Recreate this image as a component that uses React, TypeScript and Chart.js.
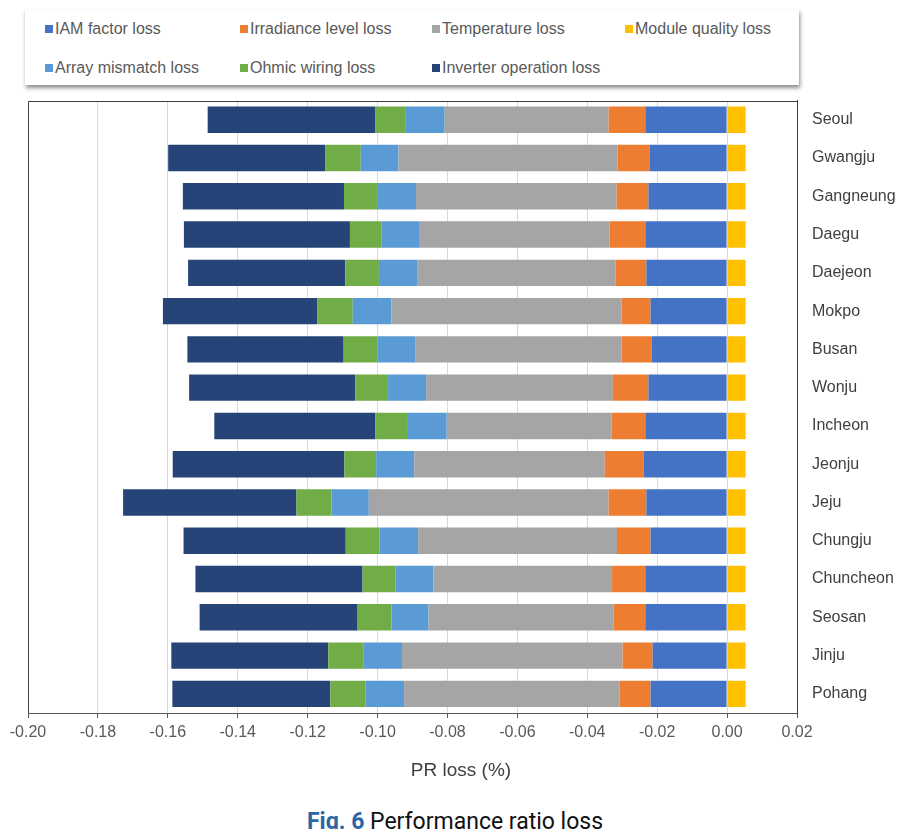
import React, { useEffect, useRef } from "react";
import { Chart, registerables } from "chart.js";

Chart.register(...registerables);

const cities = [
  "Seoul", "Gwangju", "Gangneung", "Daegu", "Daejeon", "Mokpo", "Busan", "Wonju",
  "Incheon", "Jeonju", "Jeju", "Chungju", "Chuncheon", "Seosan", "Jinju", "Pohang",
];

const iamLoss = [-0.0234, -0.0222, -0.0225, -0.0234, -0.0231, -0.0219, -0.0216, -0.0225, -0.0234, -0.0239, -0.0231, -0.0219, -0.0234, -0.0234, -0.0213, -0.0219];
const irradianceLoss = [-0.0105, -0.0091, -0.0091, -0.0102, -0.0088, -0.0083, -0.0086, -0.0102, -0.0096, -0.0111, -0.0108, -0.0096, -0.0095, -0.0091, -0.0086, -0.0088];
const temperatureLoss = [-0.0469, -0.0627, -0.0574, -0.0543, -0.0566, -0.0658, -0.0589, -0.0534, -0.0472, -0.0545, -0.0686, -0.0569, -0.0511, -0.0529, -0.0631, -0.0617];
const moduleQualityLoss = [0.0053, 0.0053, 0.0053, 0.0053, 0.0053, 0.0053, 0.0053, 0.0053, 0.0053, 0.0053, 0.0053, 0.0053, 0.0053, 0.0053, 0.0053, 0.0053];
const arrayMismatchLoss = [-0.0111, -0.0108, -0.0109, -0.0109, -0.0111, -0.0111, -0.0109, -0.0109, -0.0111, -0.0109, -0.0107, -0.0111, -0.0109, -0.0106, -0.0111, -0.0111];
const ohmicWiringLoss = [-0.0088, -0.0102, -0.0097, -0.0091, -0.0096, -0.0102, -0.0097, -0.0094, -0.0093, -0.0091, -0.0100, -0.0096, -0.0094, -0.0097, -0.0100, -0.0100];
const inverterLoss = [-0.0479, -0.0449, -0.0461, -0.0475, -0.0450, -0.0441, -0.0447, -0.0475, -0.0461, -0.0491, -0.0496, -0.0464, -0.0478, -0.0452, -0.0449, -0.0452];

const seriesNames = [
  "IAM factor loss",
  "Irradiance level loss",
  "Temperature loss",
  "Module quality loss",
  "Array mismatch loss",
  "Ohmic wiring loss",
  "Inverter operation loss",
];
const seriesColors = ["#4472C4", "#ED7D31", "#A5A5A5", "#FFC000", "#5B9BD5", "#70AD47", "#264478"];
const seriesValues = [iamLoss, irradianceLoss, temperatureLoss, moduleQualityLoss, arrayMismatchLoss, ohmicWiringLoss, inverterLoss];

const xMin = -0.2;
const xMax = 0.02;
const xStep = 0.02;

const FONT = "'Liberation Sans', Arial, Helvetica, sans-serif";

const framePlugin = {
  id: "frame",
  afterDraw(chart: any) {
    const { ctx, chartArea } = chart;
    ctx.save();
    ctx.strokeStyle = "#404040";
    ctx.lineWidth = 1;
    ctx.beginPath();
    ctx.moveTo(Math.round(chartArea.left) + 0.5, Math.round(chartArea.bottom));
    ctx.lineTo(Math.round(chartArea.left) + 0.5, Math.round(chartArea.top) + 0.5);
    ctx.lineTo(Math.round(chartArea.right), Math.round(chartArea.top) + 0.5);
    ctx.stroke();
    ctx.restore();
  },
};

export default function App() {
  const canvasRef = useRef<HTMLCanvasElement | null>(null);

  useEffect(() => {
    if (!canvasRef.current) return;
    const chart = new Chart(canvasRef.current, {
      type: "bar",
      data: {
        labels: cities,
        datasets: seriesNames.map((name, i) => ({
          label: name,
          data: seriesValues[i],
          backgroundColor: seriesColors[i],
          borderWidth: 0,
          barPercentage: 0.69,
          categoryPercentage: 1,
        })),
      },
      options: {
        indexAxis: "y",
        responsive: false,
        animation: false,
        devicePixelRatio: 1,
        layout: { padding: { left: 28, top: 6, right: 0, bottom: 0 } },
        plugins: {
          legend: { display: false },
          tooltip: { enabled: false },
          title: { display: false },
        },
        scales: {
          x: {
            type: "linear",
            stacked: true,
            min: xMin,
            max: xMax,
            afterFit(scale: any) {
              scale.height = 87;
            },
            ticks: {
              stepSize: xStep,
              color: "#595959",
              font: { family: FONT, size: 16 },
              padding: 5,
              maxRotation: 0,
              callback: (v: any) => {
                const n = Number(v);
                return Math.abs(n) < 1e-9 ? "0.00" : n.toFixed(2);
              },
            },
            grid: {
              color: "#D9D9D9",
              lineWidth: 1,
              drawTicks: true,
              tickLength: 5,
              tickColor: "#595959",
            },
            border: { display: true, color: "#595959", width: 1 },
          },
          y: {
            type: "category",
            position: "right",
            stacked: true,
            afterFit(scale: any) {
              scale.width = 119;
            },
            ticks: {
              color: "#404040",
              font: { family: FONT, size: 16 },
              padding: 15,
              crossAlign: "near",
            },
            grid: { display: false, drawTicks: false },
            border: { display: true, color: "#404040", width: 1 },
          },
        },
      },
      plugins: [framePlugin],
    } as any);
    return () => chart.destroy();
  }, []);

  const legendItems = [
    { i: 0, x: 45, y: 29 },
    { i: 1, x: 240, y: 29 },
    { i: 2, x: 432, y: 29 },
    { i: 3, x: 625, y: 29 },
    { i: 4, x: 45, y: 68 },
    { i: 5, x: 240, y: 68 },
    { i: 6, x: 432, y: 68 },
  ];

  return (
    <div style={{ position: "relative", width: 900, height: 821 }}>
      <div style={{ position: "absolute", left: -8, top: -8, width: 916, height: 837, background: "#fff" }}>
        <div
          style={{
            position: "absolute",
            left: 25,
            top: 9,
            width: 774,
            height: 76,
            background: "#fff",
            boxShadow: "1px 3px 4px rgba(0,0,0,0.45)",
          }}
        />
        {legendItems.map(({ i, x, y }) => (
          <div
            key={i}
            style={{
              position: "absolute",
              left: x,
              top: y - 10,
              height: 20,
              display: "flex",
              alignItems: "center",
              fontFamily: FONT,
              fontSize: 16,
              color: "#595959",
              whiteSpace: "nowrap",
            }}
          >
            <span style={{ display: "inline-block", width: 8, height: 8, background: seriesColors[i], marginRight: 2 }} />
            <span>{seriesNames[i]}</span>
          </div>
        ))}
        <canvas
          ref={canvasRef}
          width={916}
          height={724}
          style={{ position: "absolute", left: 0, top: 76, width: 916, height: 724 }}
        />
        <div
          style={{
            position: "absolute",
            left: 361,
            width: 200,
            top: 758,
            textAlign: "center",
            fontFamily: FONT,
            fontSize: 19,
            color: "#404040",
            lineHeight: "24px",
          }}
        >
          PR loss (%)
        </div>
        <div
          style={{
            position: "absolute",
            left: 255,
            width: 400,
            top: 808,
            textAlign: "center",
            fontFamily: "Roboto, 'Noto Sans', sans-serif",
            fontSize: 23,
            color: "#111",
            lineHeight: "28px",
            whiteSpace: "nowrap",
          }}
        >
          <span style={{ color: "#2d64a6", fontWeight: 700 }}>Fig. 6</span> Performance ratio loss
        </div>
      </div>
    </div>
  );
}
